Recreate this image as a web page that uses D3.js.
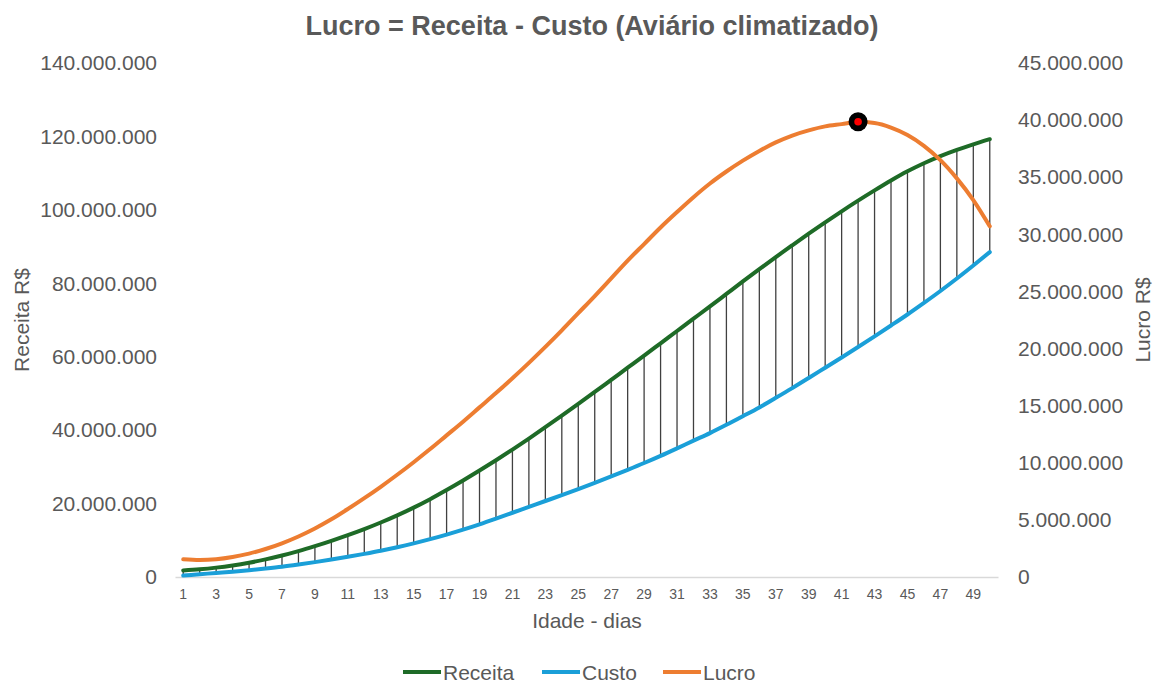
<!DOCTYPE html>
<html><head><meta charset="utf-8">
<script src="https://cdn.jsdelivr.net/npm/d3@7"></script>
<style>
html,body{margin:0;padding:0;background:#fff;}
text{font-family:Arial,"Liberation Sans",sans-serif;}
</style></head>
<body>
<svg id="chart" width="1162" height="684"></svg>
<script>
const days = d3.range(1, 51);
const receita = [1.8,2.1,2.55,3.15,3.9,4.8,5.85,7.05,8.4,9.85,11.4,13.05,14.85,16.8,18.9,21.2,23.7,26.3,29.0,31.8,34.7,37.7,40.8,43.95,47.15,50.4,53.7,57.0,60.3,63.65,67.0,70.35,73.7,77.1,80.5,83.85,87.15,90.35,93.5,96.6,99.6,102.5,105.3,108.0,110.5,112.7,114.65,116.35,117.85,119.25].map(v=>v*1e6);
const custo = [0.4,0.75,1.1,1.45,1.85,2.3,2.8,3.4,4.05,4.75,5.5,6.3,7.15,8.1,9.15,10.3,11.55,12.9,14.35,15.9,17.5,19.1,20.7,22.3,23.95,25.65,27.4,29.2,31.05,33.0,35.05,37.15,39.2,41.45,43.8,46.2,48.8,51.45,54.2,57.0,59.8,62.65,65.55,68.5,71.5,74.65,77.9,81.3,84.85,88.5].map(v=>v*1e6);
const lucro = [1.55,1.48,1.55,1.75,2.05,2.45,2.95,3.55,4.25,5.05,5.95,6.9,7.9,8.95,10.05,11.2,12.4,13.6,14.85,16.1,17.4,18.75,20.15,21.6,23.1,24.6,26.15,27.7,29.15,30.6,31.95,33.25,34.45,35.5,36.45,37.3,38.05,38.65,39.1,39.45,39.65,39.85,39.75,39.35,38.7,37.75,36.5,34.9,33.0,30.7].map(v=>v*1e6);
const leftTicks = [0,20e6,40e6,60e6,80e6,100e6,120e6,140e6];
const rightTicks = [0,5e6,10e6,15e6,20e6,25e6,30e6,35e6,40e6,45e6];
const xTickLabels = days.filter(d => d % 2 === 1);
const peakDay = 42;
const seriesNames = ["Receita","Custo","Lucro"];
const seriesColors = ["#1e6b27","#1a9fd8","#ed7d31"];

const svg = d3.select("#chart");
const L = 175, R = 998, T = 63, B = 577;
const txtCol = "#595959";
const FF = "Arial, 'Liberation Sans', sans-serif";
const fmt = v => v === 0 ? "0" : d3.format(",")(v).replace(/,/g, ".");

const x = d3.scaleBand().domain(days).range([L, R]);
const xc = d => x(d) + x.bandwidth()/2;
const yL = d3.scaleLinear().domain([0,140e6]).range([B, T]);
const yR = d3.scaleLinear().domain([0,45e6]).range([B, T]);

// title
svg.append("text").attr("x", 592).attr("y", 35).attr("text-anchor","middle")
  .attr("font-size", 27).attr("font-weight","bold").attr("fill", txtCol)
  .text("Lucro = Receita - Custo (Aviário climatizado)");

// left axis labels
const gL = svg.append("g").attr("transform", `translate(${L},0)`)
  .call(d3.axisLeft(yL).tickValues(leftTicks).tickFormat(fmt).tickSize(0).tickPadding(18));
gL.select(".domain").remove();
gL.selectAll("text").attr("font-size", 21).attr("fill", txtCol).attr("font-family", FF);

// right axis labels
const gR = svg.append("g").attr("transform", `translate(${R},0)`)
  .call(d3.axisRight(yR).tickValues(rightTicks).tickFormat(fmt).tickSize(0).tickPadding(20));
gR.select(".domain").remove();
gR.selectAll("text").attr("font-size", 21).attr("fill", txtCol).attr("font-family", FF);

// x axis
const gX = svg.append("g").attr("transform", `translate(0,${B})`)
  .call(d3.axisBottom(x).tickValues(xTickLabels).tickSize(0).tickPadding(12));
gX.select(".domain").attr("stroke", "#d9d9d9").attr("stroke-width", 1.5);
gX.selectAll("text").attr("font-size", 14).attr("fill", txtCol).attr("font-family", FF);

// axis titles
svg.append("text").attr("x", 587).attr("y", 628).attr("text-anchor","middle")
  .attr("font-size", 21).attr("fill", txtCol).text("Idade - dias");
svg.append("text").attr("transform", "translate(29,320) rotate(-90)").attr("text-anchor","middle")
  .attr("font-size", 21).attr("fill", txtCol).text("Receita R$");
svg.append("text").attr("transform", "translate(1150,320) rotate(-90)").attr("text-anchor","middle")
  .attr("font-size", 21).attr("fill", txtCol).text("Lucro R$");

// drop (hi-lo) lines
svg.append("g").selectAll("line").data(days).join("line")
  .attr("x1", d => xc(d)).attr("x2", d => xc(d))
  .attr("y1", (d,i) => yL(receita[i])).attr("y2", (d,i) => yL(custo[i]))
  .attr("stroke", "#404040").attr("stroke-width", 1.3);

const lineL = arr => d3.line().x((d,i) => xc(days[i])).y(d => yL(d)).curve(d3.curveMonotoneX)(arr);
const lineR = arr => d3.line().x((d,i) => xc(days[i])).y(d => yR(d)).curve(d3.curveMonotoneX)(arr);

svg.append("path").attr("d", lineL(custo)).attr("fill","none").attr("stroke", seriesColors[1]).attr("stroke-width", 4).attr("stroke-linecap","round");
svg.append("path").attr("d", lineL(receita)).attr("fill","none").attr("stroke", seriesColors[0]).attr("stroke-width", 4).attr("stroke-linecap","round");
svg.append("path").attr("d", lineR(lucro)).attr("fill","none").attr("stroke", seriesColors[2]).attr("stroke-width", 4).attr("stroke-linecap","round");

// peak marker
const pi = days.indexOf(peakDay);
svg.append("circle").attr("cx", xc(peakDay)).attr("cy", yR(lucro[pi])).attr("r", 9.5).attr("fill", "#000");
svg.append("circle").attr("cx", xc(peakDay)).attr("cy", yR(lucro[pi])).attr("r", 3.8).attr("fill", "#ff0000");

// legend
const legX = [403, 542, 663];
const leg = svg.append("g");
seriesNames.forEach((n, i) => {
  leg.append("line").attr("x1", legX[i]).attr("x2", legX[i] + 38).attr("y1", 672).attr("y2", 672)
    .attr("stroke", seriesColors[i]).attr("stroke-width", 4);
  leg.append("text").attr("x", legX[i] + 40).attr("y", 679.5).attr("font-size", 21).attr("fill", txtCol).text(n);
});
</script>
</body></html>
